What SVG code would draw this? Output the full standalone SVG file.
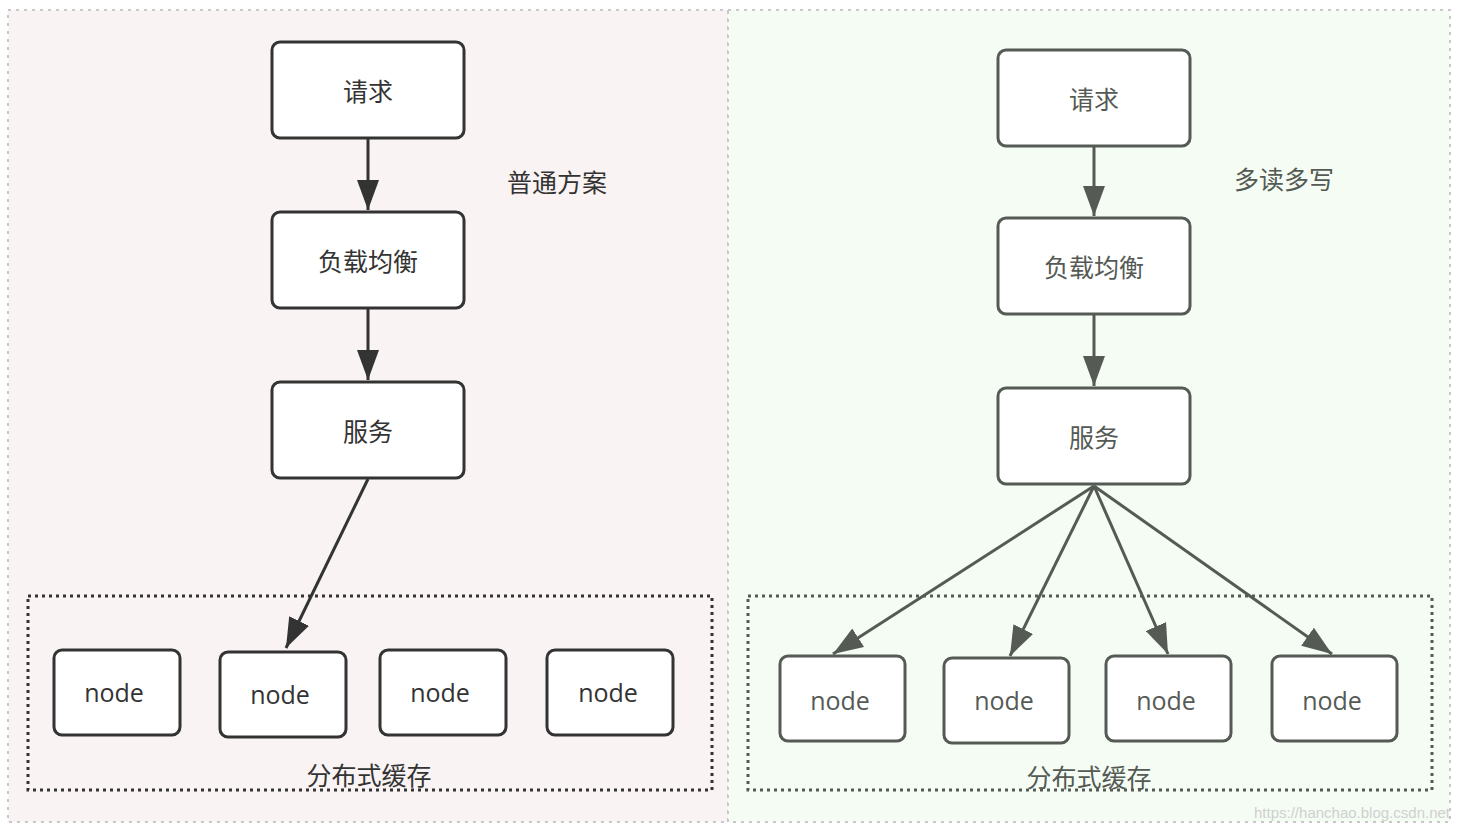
<svg xmlns="http://www.w3.org/2000/svg" width="1460" height="832" viewBox="0 0 1460 832">
<style>
.panel{stroke:#c8c8c8;stroke-width:2;stroke-dasharray:3 5}
.box{fill:#fff;stroke-width:3}
.L .box{stroke:#333}
.R .box{stroke:#555a55}
.t{font-family:"Noto Sans CJK SC","Noto Sans",sans-serif;font-size:25px;text-anchor:middle;dominant-baseline:central}
.L .t{fill:#333}
.R .t{fill:#555a55}
.n{font-family:"Open Sans","Noto Sans",sans-serif;font-size:25px;text-anchor:middle;dominant-baseline:central}
.L .n{fill:#333}
.R .n{fill:#555a55}
.cache{fill:none;stroke-width:3;stroke-dasharray:3 4}
.edgeL{stroke:#333;stroke-width:3;fill:none}
.edgeR{stroke:#555a55;stroke-width:3;fill:none}
</style>
<defs>
<marker id="hL" viewBox="0 0 30 22" refX="30" refY="11" markerWidth="30" markerHeight="22" markerUnits="userSpaceOnUse" orient="auto">
<path d="M0,0 L30,11 L0,22 Z" fill="#333"/>
</marker>
<marker id="hR" viewBox="0 0 30 22" refX="30" refY="11" markerWidth="30" markerHeight="22" markerUnits="userSpaceOnUse" orient="auto">
<path d="M0,0 L30,11 L0,22 Z" fill="#555a55"/>
</marker>
</defs>
<rect width="1460" height="832" fill="#ffffff"/>
<rect class="panel" x="8" y="10" width="720" height="812" fill="#f9f3f3"/>
<rect class="panel" x="728" y="10" width="722" height="812" fill="#f4fcf4"/>

<g class="L">
<g id="connectors-left">
<line class="edgeL" x1="368" y1="138" x2="368" y2="210" marker-end="url(#hL)"/>
<line class="edgeL" x1="368" y1="308" x2="368" y2="380" marker-end="url(#hL)"/>
<line class="edgeL" x1="368" y1="479" x2="286" y2="648" marker-end="url(#hL)"/>
</g>
<g id="L-req"><rect class="box" x="272" y="42" width="192" height="96" rx="8"/><text class="t" x="368" y="90">请求</text></g>
<g id="L-lb"><rect class="box" x="272" y="212" width="192" height="96" rx="8"/><text class="t" x="368" y="260">负载均衡</text></g>
<g id="L-svc"><rect class="box" x="272" y="382" width="192" height="96" rx="8"/><text class="t" x="368" y="430">服务</text></g>
<g id="L-title"><text class="t" x="557" y="181">普通方案</text></g>
<g id="L-cache"><rect class="cache" x="28" y="596" width="684" height="194" stroke="#333"/><text class="t" x="369" y="774">分布式缓存</text></g>
<g id="L-n1"><rect class="box" x="54" y="650" width="126" height="85" rx="8"/><text class="n" x="114" y="692">node</text></g>
<g id="L-n2"><rect class="box" x="220" y="652" width="126" height="85" rx="8"/><text class="n" x="280" y="694">node</text></g>
<g id="L-n3"><rect class="box" x="380" y="650" width="126" height="85" rx="8"/><text class="n" x="440" y="692">node</text></g>
<g id="L-n4"><rect class="box" x="547" y="650" width="126" height="85" rx="8"/><text class="n" x="608" y="692">node</text></g>
</g>

<g class="R">
<g id="connectors-right">
<line class="edgeR" x1="1094" y1="146" x2="1094" y2="216" marker-end="url(#hR)"/>
<line class="edgeR" x1="1094" y1="314" x2="1094" y2="386" marker-end="url(#hR)"/>
<line class="edgeR" x1="1094" y1="486" x2="833" y2="654" marker-end="url(#hR)"/>
<line class="edgeR" x1="1094" y1="486" x2="1010" y2="656" marker-end="url(#hR)"/>
<line class="edgeR" x1="1094" y1="486" x2="1168" y2="654" marker-end="url(#hR)"/>
<line class="edgeR" x1="1094" y1="486" x2="1332" y2="654" marker-end="url(#hR)"/>
</g>
<g id="R-req"><rect class="box" x="998" y="50" width="192" height="96" rx="8"/><text class="t" x="1094" y="98">请求</text></g>
<g id="R-lb"><rect class="box" x="998" y="218" width="192" height="96" rx="8"/><text class="t" x="1094" y="266">负载均衡</text></g>
<g id="R-svc"><rect class="box" x="998" y="388" width="192" height="96" rx="8"/><text class="t" x="1094" y="436">服务</text></g>
<g id="R-title"><text class="t" x="1284" y="178">多读多写</text></g>
<g id="R-cache"><rect class="cache" x="748" y="596" width="684" height="194" stroke="#555a55"/><text class="t" x="1089" y="776">分布式缓存</text></g>
<g id="R-n1"><rect class="box" x="780" y="656" width="125" height="85" rx="8"/><text class="n" x="840" y="700">node</text></g>
<g id="R-n2"><rect class="box" x="944" y="658" width="125" height="85" rx="8"/><text class="n" x="1004" y="700">node</text></g>
<g id="R-n3"><rect class="box" x="1106" y="656" width="125" height="85" rx="8"/><text class="n" x="1166" y="700">node</text></g>
<g id="R-n4"><rect class="box" x="1272" y="656" width="125" height="85" rx="8"/><text class="n" x="1332" y="700">node</text></g>
</g>
<text x="1450" y="818" text-anchor="end" font-family="Liberation Sans, sans-serif" font-size="15" fill="#d0d0d0">https://hanchao.blog.csdn.net</text>
</svg>
